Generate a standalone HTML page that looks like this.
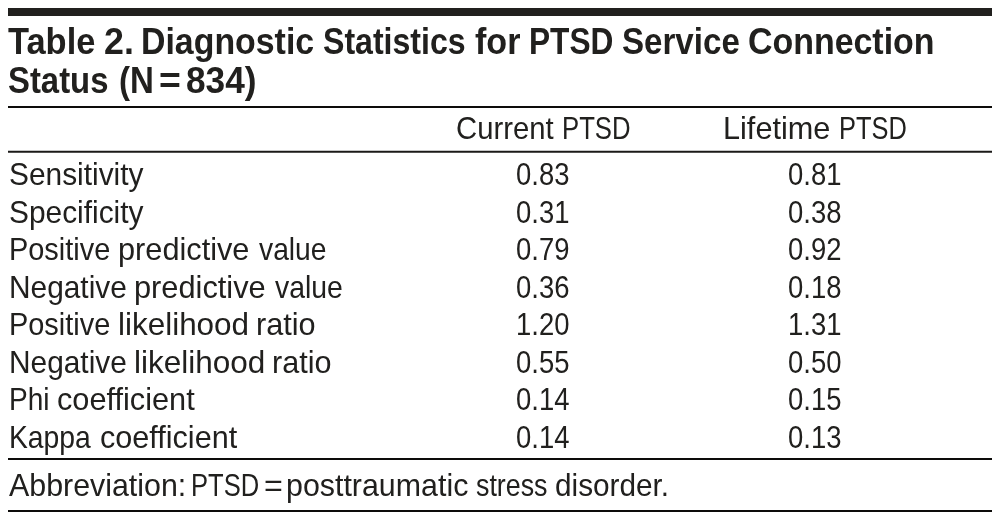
<!DOCTYPE html>
<html lang="en">
<head>
<meta charset="utf-8">
<title>Table 2. Diagnostic Statistics for PTSD Service Connection Status</title>
<style>
html,body{margin:0;padding:0;background:#fff;}
body{width:997px;height:517px;position:relative;overflow:hidden;font-family:"Liberation Sans",sans-serif;color:#21201e;}
.fig{position:absolute;left:0;top:0;width:997px;height:517px;}
.rules{position:absolute;left:0;top:0;}
span{position:absolute;white-space:pre;line-height:1;transform-origin:0 0;display:block;}
.cap span{font-size:37px;font-weight:bold;}
.tbl span,.note span{font-size:31.5px;font-weight:normal;}
.cap,.tbl,.note,.row,.head{position:static;margin:0;padding:0;}
</style>
</head>
<body>
<div class="fig">
<svg class="rules" width="997" height="517" viewBox="0 0 997 517">
<rect x="8" y="8" width="984" height="8" fill="#21201e"/>
<rect x="8" y="106" width="984" height="2" fill="#0d0c0a"/>
<rect x="8" y="150.75" width="984" height="2" fill="#1b1a18"/>
<rect x="8" y="458" width="984" height="2" fill="#0d0c0a"/>
<rect x="8" y="510" width="984" height="2" fill="#0d0c0a"/>
</svg>

<div class="cap">
<span style="left:7.63px;top:23px;transform:scaleX(0.9304)">Table</span>
<span style="left:103.99px;top:23px;transform:scaleX(0.9667)">2.</span>
<span style="left:140.61px;top:23px;transform:scaleX(0.9154)">Diagnostic</span>
<span style="left:323.12px;top:23px;transform:scaleX(0.8668)">Statistics</span>
<span style="left:474.51px;top:23px;transform:scaleX(0.9208)">for</span>
<span style="left:529.06px;top:23px;transform:scaleX(0.8550)">PTSD</span>
<span style="left:622.08px;top:23px;transform:scaleX(0.8946)">Service</span>
<span style="left:747.83px;top:23px;transform:scaleX(0.9166)">Connection</span>
<span style="left:8.49px;top:62px;transform:scaleX(0.8880)">Status</span>
<span style="left:119.34px;top:62px;transform:scaleX(0.8921)">(N</span>
<span style="left:159.48px;top:62px;transform:scaleX(1.0108)">=</span>
<span style="left:186.11px;top:62px;transform:scaleX(0.9521)">834)</span>
</div>
<div class="tbl">
<div class="head">
<span style="left:455.71px;top:113px;transform:scaleX(0.9288)">Current</span>
<span style="left:562.16px;top:113px;transform:scaleX(0.8162)">PTSD</span>
<span style="left:723.47px;top:113px;transform:scaleX(0.9732)">Lifetime</span>
<span style="left:838.78px;top:113px;transform:scaleX(0.8063)">PTSD</span>
</div>
<div class="row">
<span style="left:8.78px;top:159px;transform:scaleX(0.9483)">Sensitivity</span>
<span style="left:516.21px;top:159px;transform:scaleX(0.8715)">0.83</span>
<span style="left:788.21px;top:159px;transform:scaleX(0.8715)">0.81</span>
</div>
<div class="row">
<span style="left:8.78px;top:197px;transform:scaleX(0.9483)">Specificity</span>
<span style="left:516.21px;top:197px;transform:scaleX(0.8715)">0.31</span>
<span style="left:788.21px;top:197px;transform:scaleX(0.8715)">0.38</span>
</div>
<div class="row">
<span style="left:8.71px;top:234px;transform:scaleX(0.9176)">Positive</span>
<span style="left:117.55px;top:234px;transform:scaleX(0.9749)">predictive</span>
<span style="left:259.48px;top:234px;transform:scaleX(0.8969)">value</span>
<span style="left:516.21px;top:234px;transform:scaleX(0.8715)">0.79</span>
<span style="left:788.21px;top:234px;transform:scaleX(0.8715)">0.92</span>
</div>
<div class="row">
<span style="left:8.63px;top:272px;transform:scaleX(0.9477)">Negative</span>
<span style="left:133.85px;top:272px;transform:scaleX(0.9764)">predictive</span>
<span style="left:275.37px;top:272px;transform:scaleX(0.9017)">value</span>
<span style="left:516.21px;top:272px;transform:scaleX(0.8715)">0.36</span>
<span style="left:788.21px;top:272px;transform:scaleX(0.8715)">0.18</span>
</div>
<div class="row">
<span style="left:8.71px;top:309px;transform:scaleX(0.9176)">Positive</span>
<span style="left:117.50px;top:309px;transform:scaleX(0.9980)">likelihood</span>
<span style="left:255.56px;top:309px;transform:scaleX(0.9724)">ratio</span>
<span style="left:516.21px;top:309px;transform:scaleX(0.8715)">1.20</span>
<span style="left:788.21px;top:309px;transform:scaleX(0.8715)">1.31</span>
</div>
<div class="row">
<span style="left:8.63px;top:347px;transform:scaleX(0.9477)">Negative</span>
<span style="left:133.80px;top:347px;transform:scaleX(0.9996)">likelihood</span>
<span style="left:271.86px;top:347px;transform:scaleX(0.9707)">ratio</span>
<span style="left:516.21px;top:347px;transform:scaleX(0.8715)">0.55</span>
<span style="left:788.21px;top:347px;transform:scaleX(0.8715)">0.50</span>
</div>
<div class="row">
<span style="left:8.77px;top:384px;transform:scaleX(0.8908)">Phi</span>
<span style="left:57.38px;top:384px;transform:scaleX(0.9746)">coefficient</span>
<span style="left:516.21px;top:384px;transform:scaleX(0.8715)">0.14</span>
<span style="left:788.21px;top:384px;transform:scaleX(0.8715)">0.15</span>
</div>
<div class="row">
<span style="left:8.75px;top:422px;transform:scaleX(0.8983)">Kappa</span>
<span style="left:100.29px;top:422px;transform:scaleX(0.9710)">coefficient</span>
<span style="left:516.21px;top:422px;transform:scaleX(0.8715)">0.14</span>
<span style="left:788.21px;top:422px;transform:scaleX(0.8715)">0.13</span>
</div>
</div>
<div class="note">
<span style="left:9.40px;top:470px;transform:scaleX(0.9641)">Abbreviation:</span>
<span style="left:190.97px;top:470px;transform:scaleX(0.8112)">PTSD</span>
<span style="left:263.57px;top:470px;transform:scaleX(1.0230)">=</span>
<span style="left:285.67px;top:470px;transform:scaleX(0.9643)">posttraumatic</span>
<span style="left:475.75px;top:470px;transform:scaleX(0.8514)">stress</span>
<span style="left:555.22px;top:470px;transform:scaleX(0.9439)">disorder.</span>
</div>
</div>
</body>
</html>
